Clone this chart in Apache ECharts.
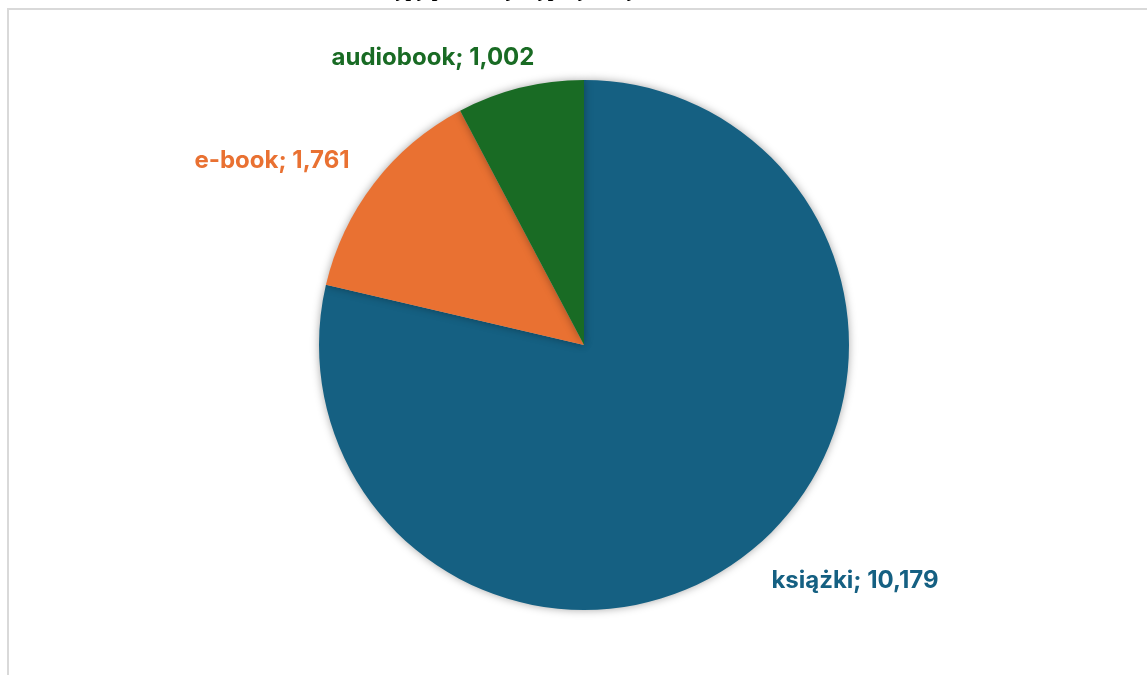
<!DOCTYPE html>
<html>
<head>
<meta charset="utf-8">
<script src="https://cdn.jsdelivr.net/npm/echarts@6/dist/echarts.min.js"></script>
<style>
  html, body { margin: 0; padding: 0; background: #ffffff; }
  #frame { position: absolute; left: 7px; top: 8px; width: 1200px; height: 700px;
           border-left: 2px solid #d9d9d9; border-top: 2px solid #d9d9d9; }
  #chart { position: absolute; left: 0; top: 0; width: 1147px; height: 675px; }
</style>
</head>
<body>
<div id="frame"></div>
<div id="chart"></div>
<script>
const titleText = 'Typy publikacji wypożyczanych w bibliotece';
const categories = ['książki', 'e-book', 'audiobook'];
const values = [10179, 1761, 1002];
const colors = ['#156082', '#E97132', '#196B24'];

const chart = echarts.init(document.getElementById('chart'), null, { renderer: 'canvas' });
const labelCenters = [[855, 581], [272, 161], [433, 58]];

chart.setOption({
  animation: false,
  title: {
    text: titleText,
    left: 'center',
    top: -24,
    textStyle: { fontFamily: 'Liberation Serif', fontWeight: 'bold', fontSize: 20, color: '#000' }
  },
  series: [{
    type: 'pie',
    center: [584, 345],
    radius: 265,
    startAngle: 90,
    clockwise: true,
    data: categories.map((c, i) => ({ name: c, value: values[i], itemStyle: { color: colors[i] } })),
    itemStyle: { borderWidth: 0, shadowBlur: 8, shadowColor: 'rgba(0,0,0,0.35)' },
    label: {
      show: true,
      position: 'outside',
      formatter: p => p.name + '; ' + p.value.toLocaleString('en-US'),
      fontFamily: 'Inter',
      fontWeight: 'bold',
      fontSize: 24,
      color: 'inherit'
    },
    labelLine: { show: false },
    labelLayout: p => ({ x: labelCenters[p.dataIndex][0], y: labelCenters[p.dataIndex][1], align: 'center', verticalAlign: 'middle' }),
    emphasis: { disabled: true }
  }]
});
</script>
</body>
</html>
